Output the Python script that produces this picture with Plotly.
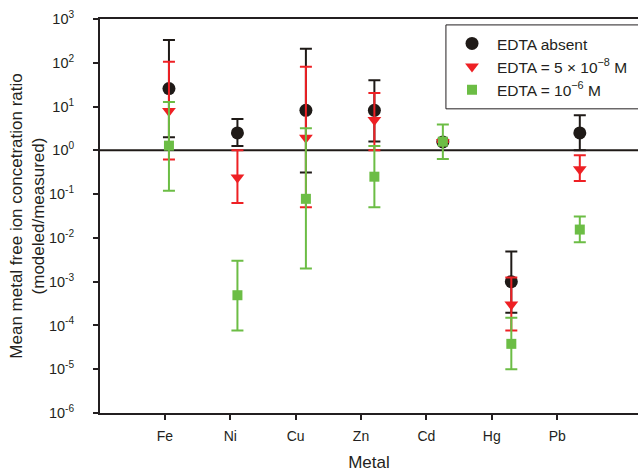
import plotly.graph_objects as go

metals = ["Fe", "Ni", "Cu", "Zn", "Cd", "Hg", "Pb"]

# EDTA absent
absent_val = [25.8, 2.5, 8.2, 8.2, 1.55, 1.0e-3, 2.5]
absent_hi = [330, 5.2, 208, 40, 1.55, 4.9e-3, 6.3]
absent_lo = [2.0, 1.25, 0.31, 1.6, 1.55, 1.96e-4, 1.0]

# EDTA = 5e-8 M
low_val = [7.9, 0.24, 1.95, 4.9, 1.55, 3.0e-4, 0.37]
low_hi = [105, 1.0, 81, 20.5, 1.55, 1.25e-3, 0.77]
low_lo = [0.62, 0.063, 0.05, 1.0, 1.55, 7.7e-5, 0.2]

# EDTA = 1e-6 M
high_val = [1.28, 4.9e-4, 0.078, 0.25, 1.58, 3.8e-5, 0.0155]
high_hi = [12.7, 3.0e-3, 3.2, 1.25, 3.9, 1.5e-4, 0.031]
high_lo = [0.12, 7.7e-5, 2.0e-3, 0.05, 0.63, 1.0e-5, 0.008]

ytick_exp = [3, 2, 1, 0, -1, -2, -3, -4, -5, -6]

series = [
    ("EDTA absent", absent_val, absent_hi, absent_lo, "#1f1a17", "circle", 13),
    ("EDTA = 5 × 10<sup>−8</sup> M", low_val, low_hi, low_lo, "#ee2024", "triangle-down", 12),
    ("EDTA = 10<sup>−6</sup> M", high_val, high_hi, high_lo, "#6cbd45", "square", 10),
]

xs = list(range(len(metals)))
fig = go.Figure()
for name, v, hi, lo, col, sym, sz in series:
    fig.add_trace(go.Scatter(
        x=xs, y=v, mode="markers", name=name,
        marker=dict(symbol=sym, size=sz, color=col),
        error_y=dict(type="data", symmetric=False,
                     array=[h - a for h, a in zip(hi, v)],
                     arrayminus=[a - l for a, l in zip(v, lo)],
                     color=col, thickness=2, width=6),
    ))

fig.add_shape(type="line", xref="paper", x0=0, x1=1, yref="y", y0=1, y1=1,
              line=dict(color="#1f1a17", width=2), layer="below")
# legend frame, running off the right edge as in the reference
fig.add_shape(type="rect", xref="paper", yref="paper",
              x0=0.643, x1=1.03, y0=0.772, y1=0.985,
              line=dict(color="#231f20", width=1), fillcolor="rgba(0,0,0,0)",
              layer="above")

# tick positions follow the reference's (slightly compressed) tick spacing
tickpos = [-0.06 + 0.955 * i for i in range(len(metals))]

fig.update_layout(
    width=638, height=472,
    margin=dict(l=100, r=0, t=19, b=59, autoexpand=False),
    plot_bgcolor="white", paper_bgcolor="white",
    font=dict(family="Liberation Sans, Arial", color="#231f20", size=14),
    showlegend=True,
    legend=dict(x=0.645, y=0.98, xanchor="left", yanchor="top",
                borderwidth=0, bgcolor="white",
                font=dict(size=15.5), itemwidth=40),
    xaxis=dict(range=[-1.007, 6.85], tickvals=tickpos, ticktext=metals,
               showline=True, linecolor="#231f20", linewidth=2, mirror=True,
               ticks="outside", ticklen=5, tickwidth=2, tickcolor="#231f20",
               showgrid=False, zeroline=False, ticklabelstandoff=4,
               title=dict(text="Metal", font=dict(size=17), standoff=16),
               tickfont=dict(size=14)),
    yaxis=dict(type="log", range=[-6, 3],
               tickvals=[10.0 ** e for e in ytick_exp],
               ticktext=["10<sup>%d</sup>" % e for e in ytick_exp],
               showline=True, linecolor="#231f20", linewidth=2,
               ticks="outside", ticklen=5, tickwidth=2, tickcolor="#231f20",
               showgrid=False, zeroline=False, ticklabelstandoff=16,
               title=dict(text="Mean metal free ion concetration ratio<br>(modeled/measured)",
                          font=dict(size=17), standoff=0),
               tickfont=dict(size=14.5)),
)

fig.write_html("out.html")
